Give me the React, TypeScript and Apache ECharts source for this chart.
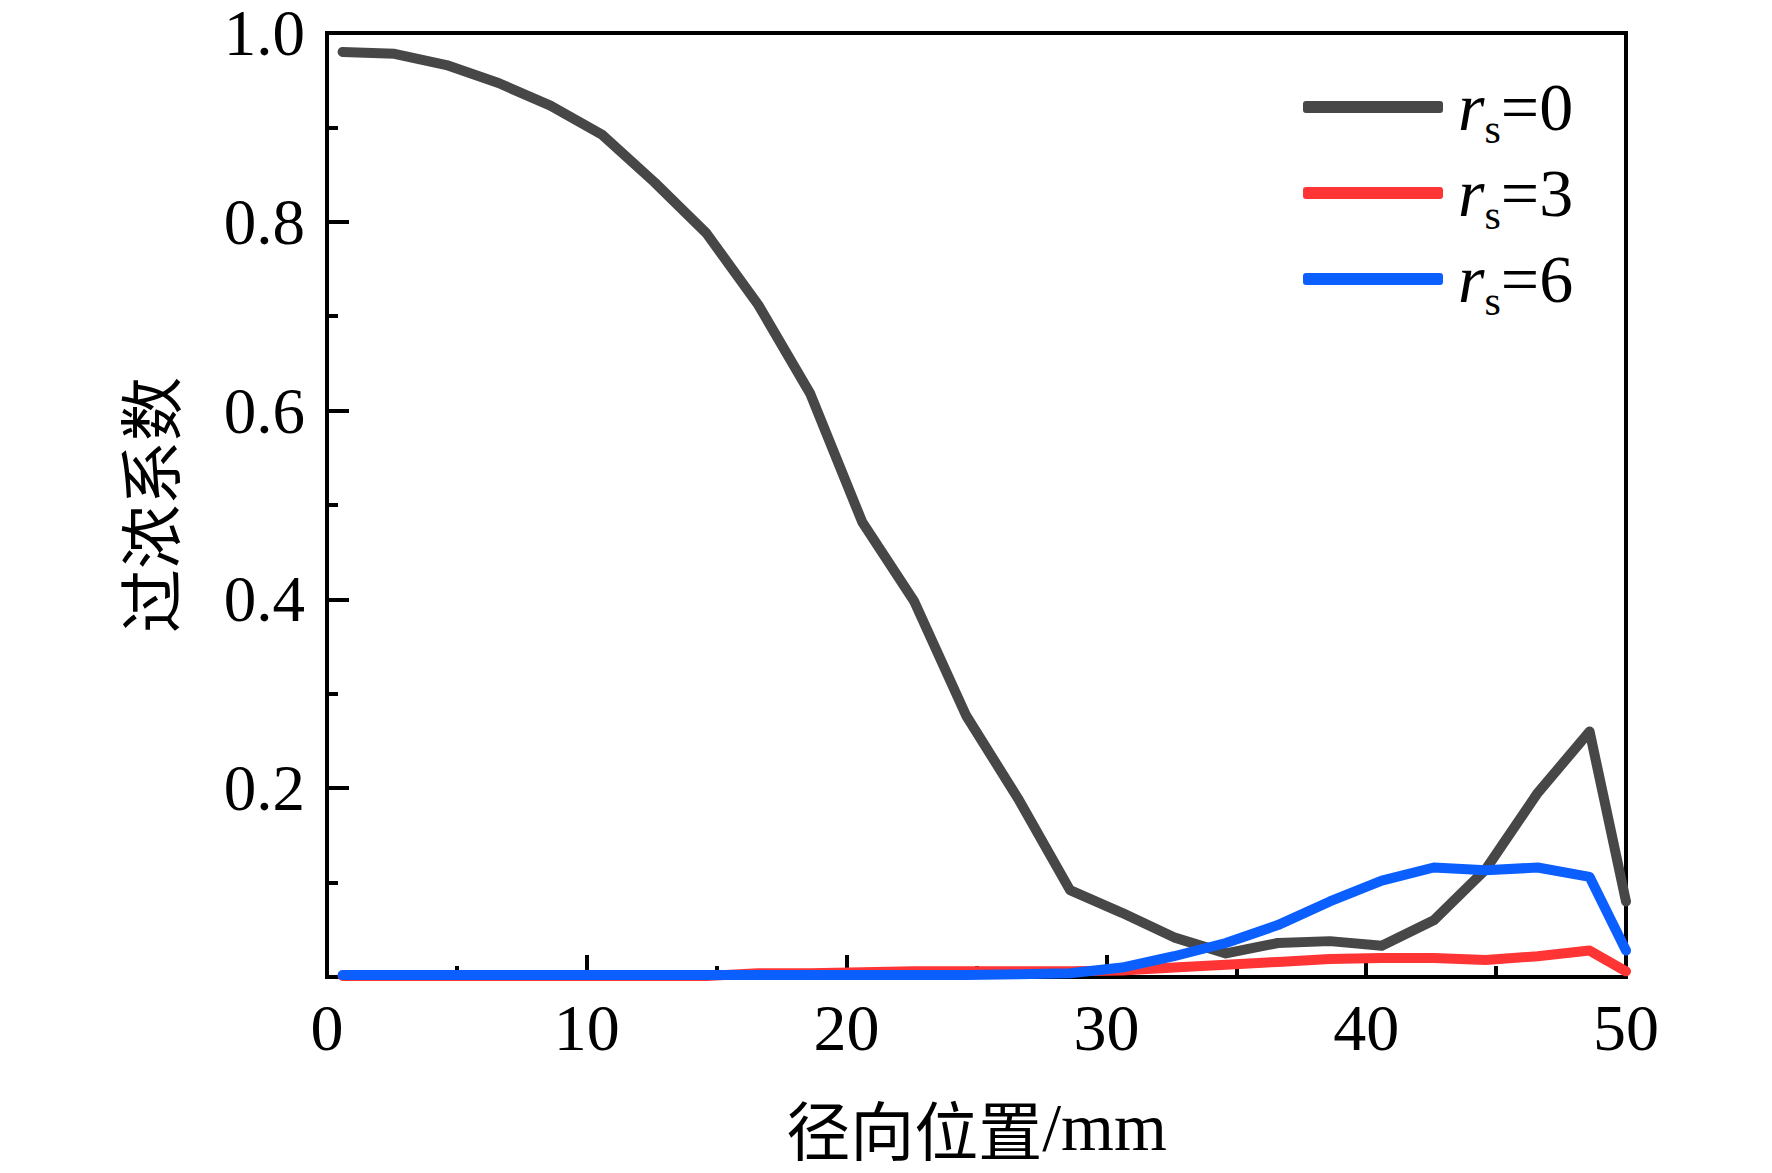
import React, { useEffect, useRef } from "react";
import * as echarts from "echarts";

const xPositions = [0.6, 2.6, 4.6, 6.6, 8.6, 10.6, 12.6, 14.6, 16.6, 18.6, 20.6, 22.6, 24.6, 26.6, 28.6, 30.6, 32.6, 34.6, 36.6, 38.6, 40.6, 42.6, 44.6, 46.6, 48.6, 50];
const rs0 = [0.980, 0.978, 0.966, 0.947, 0.923, 0.892, 0.842, 0.788, 0.712, 0.618, 0.482, 0.398, 0.277, 0.189, 0.092, 0.068, 0.042, 0.025, 0.036, 0.038, 0.033, 0.060, 0.114, 0.195, 0.260, 0.080];
const rs3 = [0.001, 0.001, 0.001, 0.001, 0.001, 0.001, 0.001, 0.001, 0.004, 0.004, 0.005, 0.006, 0.006, 0.006, 0.006, 0.007, 0.010, 0.013, 0.016, 0.019, 0.020, 0.020, 0.018, 0.022, 0.028, 0.006];
const rs6 = [0.002, 0.002, 0.002, 0.002, 0.002, 0.002, 0.002, 0.002, 0.002, 0.002, 0.002, 0.002, 0.002, 0.003, 0.004, 0.010, 0.022, 0.036, 0.055, 0.080, 0.102, 0.116, 0.113, 0.116, 0.106, 0.028];
const seriesNames = ["0", "3", "6"];
const seriesColors = ["#474747", "#ff3535", "#0b5fff"];
const xTitleCn = "径向位置";
const xTitleUnit = "/mm";
const yTitle = "过浓系数";

const SERIF = "'Liberation Serif', 'Times New Roman', serif";
const CJK = "'Noto Sans CJK SC', sans-serif";

export default function App() {
  const ref = useRef<HTMLDivElement>(null);
  useEffect(() => {
    document.body.style.margin = "0";
    const chart = echarts.init(ref.current!, null, { renderer: "svg" });
    const allY = [rs0, rs3, rs6];
    const option: any = {
      animation: false,
      backgroundColor: "#ffffff",
      grid: {
        left: 327,
        right: 146,
        top: 33,
        bottom: 196,
        show: true,
        borderColor: "#000",
        borderWidth: 4,
        containLabel: false,
      },
      legend: {
        orient: "vertical",
        left: 1298,
        top: 59,
        itemWidth: 140,
        itemHeight: 12,
        itemGap: 0,
        icon: "roundRect",
        data: seriesNames.map((n) => "rs=" + n),
        formatter: (name: string) => "{r|r}{s|s}{n|=" + name.slice(3) + "}",
        textStyle: {
          rich: {
            r: { fontFamily: SERIF, fontStyle: "italic", fontSize: 68, lineHeight: 84, color: "#000", padding: [0, 0, 0, 10] },
            s: { fontFamily: SERIF, fontSize: 42, lineHeight: 40, color: "#000", padding: [44, 0, 0, 0] },
            n: { fontFamily: SERIF, fontSize: 68, lineHeight: 84, color: "#000" },
          },
        },
      },
      xAxis: {
        type: "value",
        min: 0,
        max: 50,
        interval: 10,
        name: "{c|" + xTitleCn + "}{l|" + xTitleUnit + "}",
        nameLocation: "middle",
        nameGap: 116,
        nameTextStyle: {
          rich: {
            c: { fontFamily: CJK, fontSize: 64, color: "#000" },
            l: { fontFamily: SERIF, fontSize: 68, color: "#000" },
          },
        },
        axisLine: { show: true, onZero: false, lineStyle: { color: "#000", width: 4 } },
        axisTick: { show: true, inside: true, length: 22, lineStyle: { color: "#000", width: 4 } },
        minorTick: { show: true, splitNumber: 2, length: 11, lineStyle: { color: "#000", width: 4 } },
        axisLabel: { fontFamily: SERIF, fontSize: 66, color: "#000", margin: 22, lineHeight: 56 },
        splitLine: { show: false },
        minorSplitLine: { show: false },
      },
      yAxis: {
        type: "value",
        min: 0,
        max: 1,
        interval: 0.2,
        name: yTitle,
        nameLocation: "middle",
        nameGap: 148,
        nameRotate: 90,
        nameTextStyle: { fontFamily: CJK, fontSize: 64, color: "#000" },
        axisLine: { show: true, onZero: false, lineStyle: { color: "#000", width: 4 } },
        axisTick: { show: true, inside: true, length: 22, lineStyle: { color: "#000", width: 4 } },
        minorTick: { show: true, splitNumber: 2, length: 11, lineStyle: { color: "#000", width: 4 } },
        axisLabel: {
          fontFamily: SERIF,
          fontSize: 65,
          lineHeight: 44,
          color: "#000",
          margin: 22,
          formatter: (v: number) => (v === 0 ? "" : v.toFixed(1)),
        },
        splitLine: { show: false },
        minorSplitLine: { show: false },
      },
      series: seriesNames.map((n, i) => ({
        name: "rs=" + n,
        type: "line",
        symbol: "none",
        showSymbol: false,
        data: xPositions.map((x, k) => [x, allY[i][k]]),
        lineStyle: { color: seriesColors[i], width: 10, cap: "round", join: "round" },
        itemStyle: { color: seriesColors[i] },
        z: 2 + i,
      })),
    };
    chart.setOption(option);
    return () => chart.dispose();
  }, []);
  return <div ref={ref} style={{ position: "fixed", left: 0, top: 0, width: 1772, height: 1173 }} />;
}
